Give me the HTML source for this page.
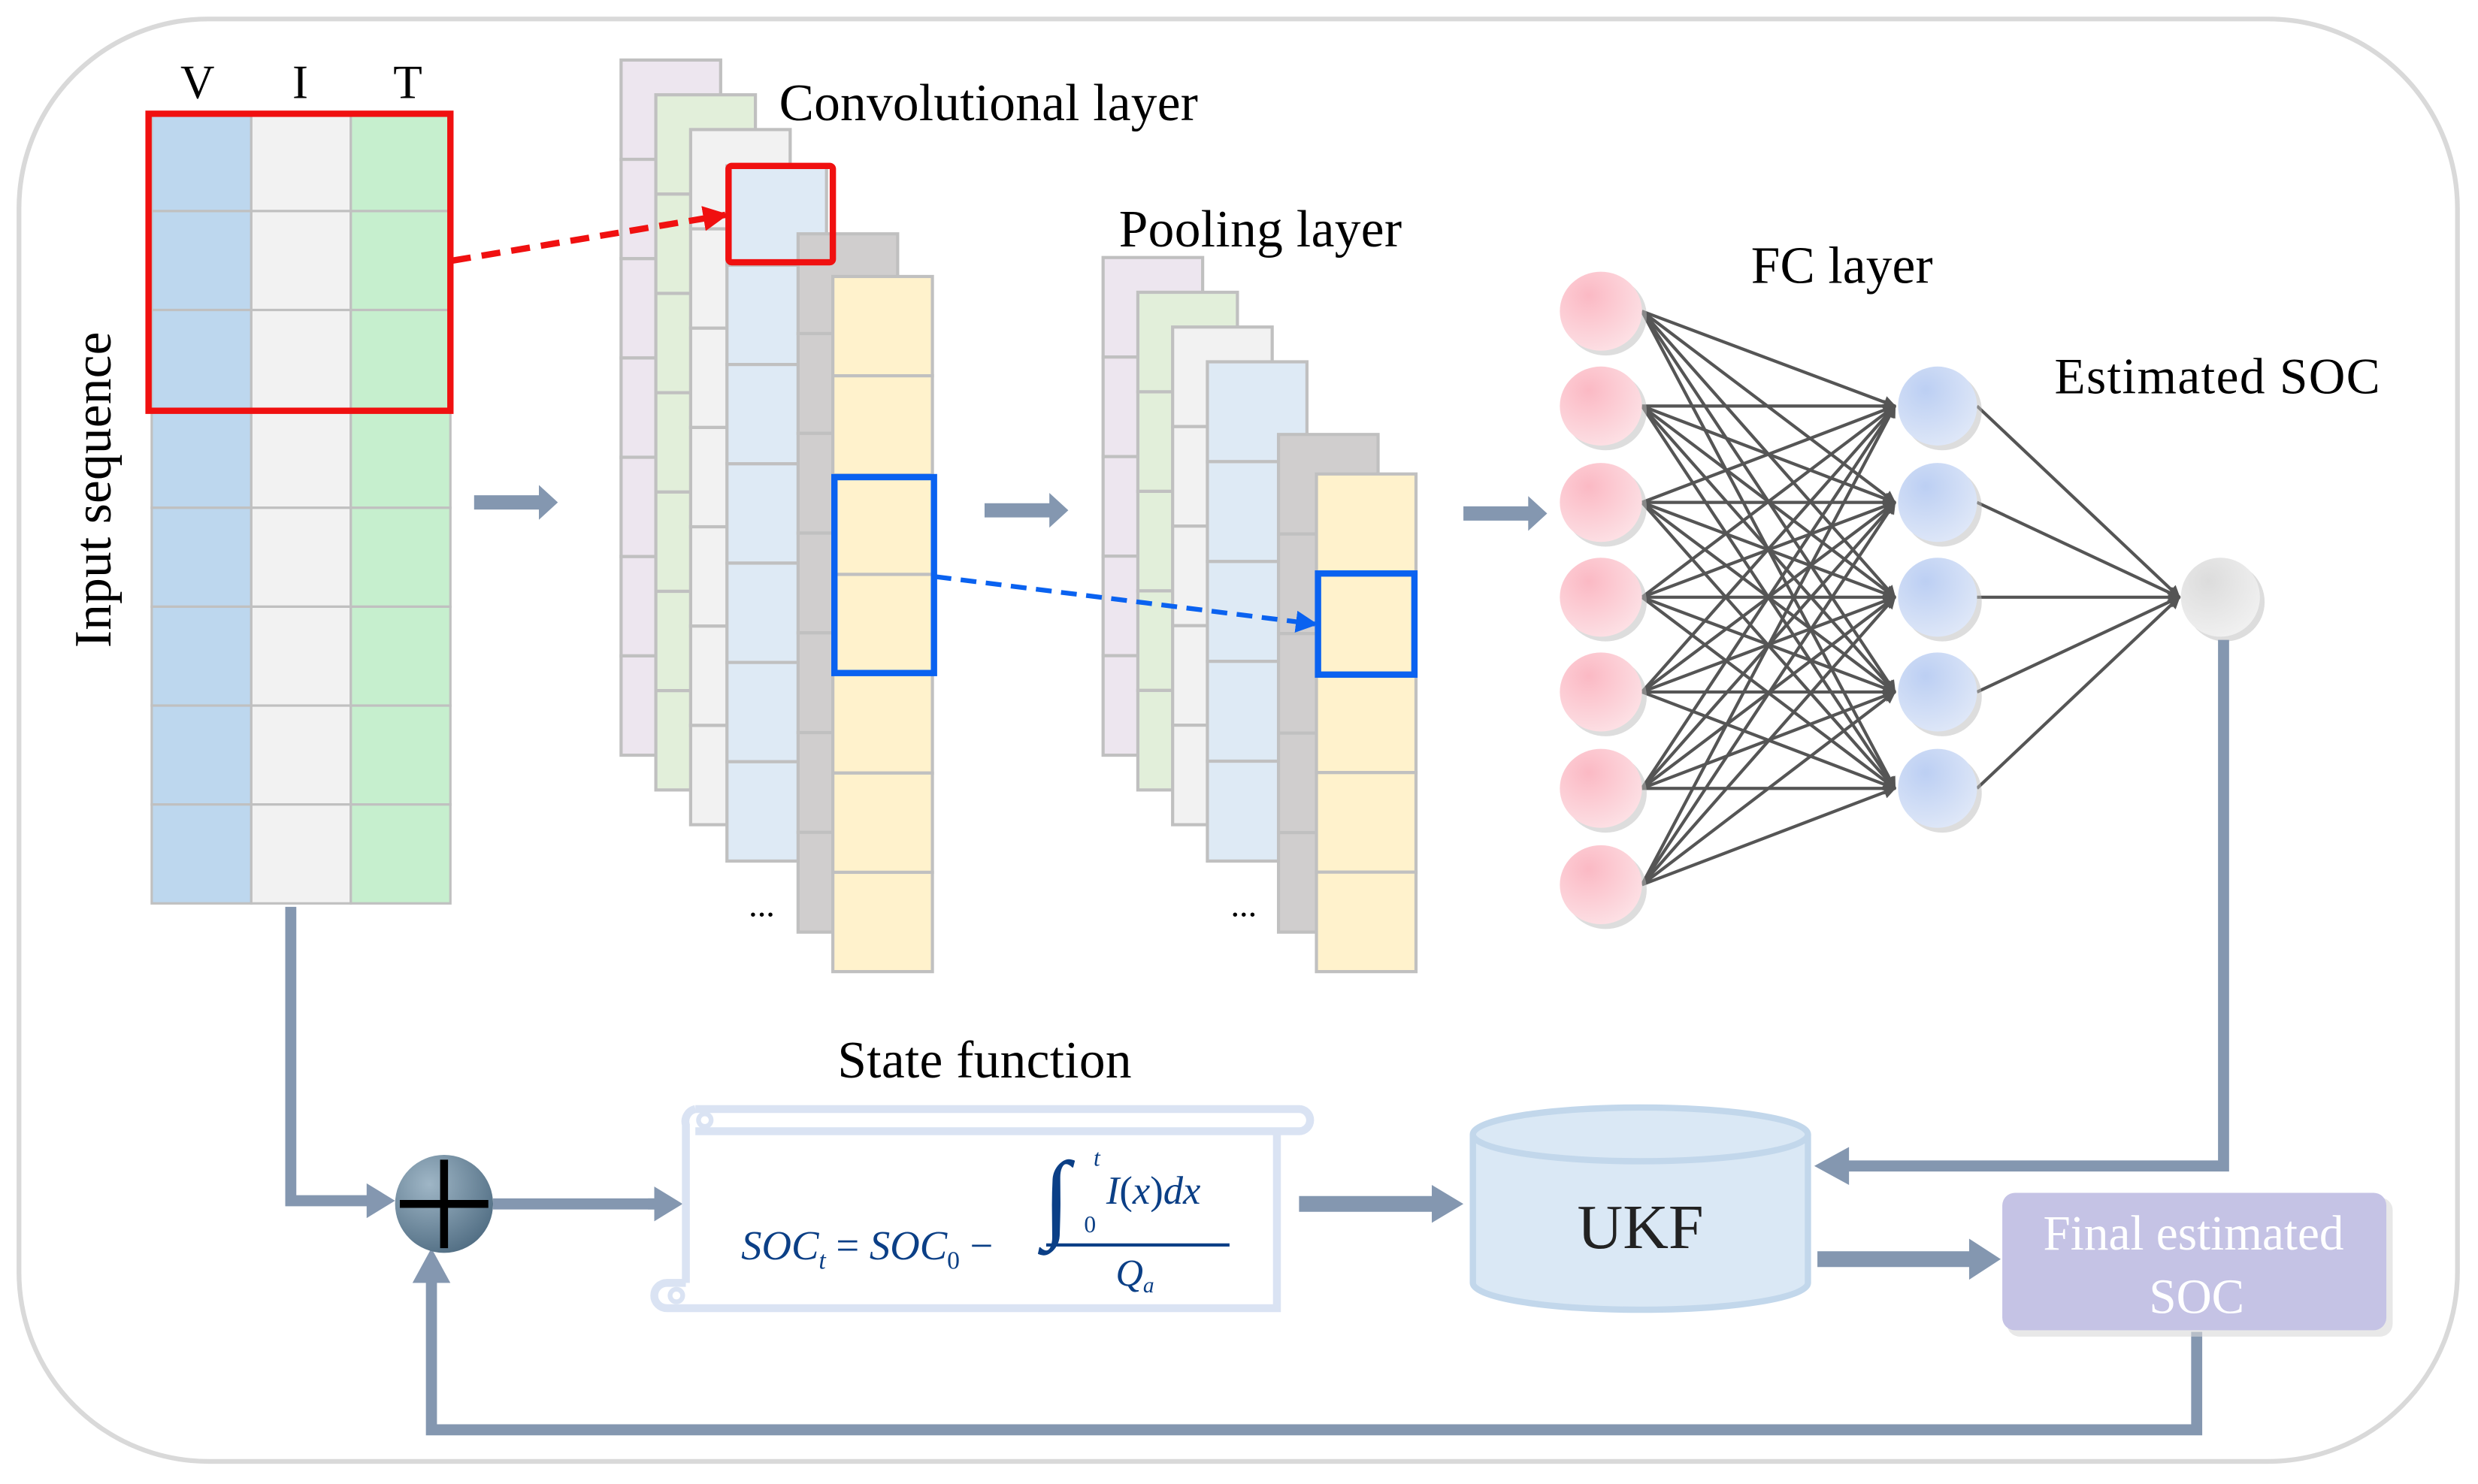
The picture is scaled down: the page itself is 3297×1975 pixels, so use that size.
<!DOCTYPE html>
<html><head><meta charset="utf-8"><style>
html,body{margin:0;padding:0;background:#fff;}
svg{display:block;}
text{font-family:"Liberation Serif",serif;}
</style></head><body>
<svg id="s" width="3297" height="1975" viewBox="0 0 1568 939.3" preserveAspectRatio="none" xmlns="http://www.w3.org/2000/svg">
<defs>
<marker id="ah" markerWidth="8" markerHeight="8" refX="7" refY="4" orient="auto" markerUnits="userSpaceOnUse"><path d="M0,0L8,4L0,8z" fill="#555"/></marker>
<marker id="ar" markerWidth="16" markerHeight="16" refX="14" refY="8" orient="auto" markerUnits="userSpaceOnUse"><path d="M0,0L16,8L0,16z" fill="#f01010"/></marker>
<marker id="ab" markerWidth="14" markerHeight="14" refX="12" refY="7" orient="auto" markerUnits="userSpaceOnUse"><path d="M0,0L14,7L0,14z" fill="#0a62f0"/></marker>
<radialGradient id="gp" cx="0.35" cy="0.3" r="0.8"><stop offset="0" stop-color="#fbb9c4"/><stop offset="1" stop-color="#fde3e7"/></radialGradient>
<radialGradient id="gb" cx="0.35" cy="0.3" r="0.8"><stop offset="0" stop-color="#bccff3"/><stop offset="1" stop-color="#e1e9f8"/></radialGradient>
<radialGradient id="gg" cx="0.35" cy="0.3" r="0.8"><stop offset="0" stop-color="#dcdcdc"/><stop offset="1" stop-color="#f2f2f2"/></radialGradient>
<radialGradient id="gs" cx="0.35" cy="0.3" r="0.8"><stop offset="0" stop-color="#9fb6c6"/><stop offset="1" stop-color="#4d6a80"/></radialGradient>
</defs>
<rect x="12" y="12" width="1543" height="913" rx="120" fill="#fff" stroke="#d9d9d9" stroke-width="3"/>
<g id="g"></g>
<!-- labels -->
<text x="125" y="62" font-size="30" text-anchor="middle">V</text>
<text x="190" y="62" font-size="30" text-anchor="middle">I</text>
<text x="258" y="62" font-size="30" text-anchor="middle">T</text>
<text x="493" y="76" font-size="33" textLength="265">Convolutional layer</text>
<text x="708" y="156" font-size="33" textLength="179">Pooling layer</text>
<text x="1108" y="179" font-size="33" textLength="115">FC layer</text>
<text x="1300" y="249" font-size="32" textLength="206">Estimated SOC</text>
<text transform="translate(70,310) rotate(-90)" font-size="33" text-anchor="middle" textLength="200">Input sequence</text>
<text x="530" y="682" font-size="33" textLength="186">State function</text>
<text x="482" y="580" font-size="22" text-anchor="middle">...</text>
<text x="787" y="580" font-size="22" text-anchor="middle">...</text>
<!-- scroll -->
<path d="M440,716 L822,716 M440,702 L822,702 A7,7 0 0 1 822,716" fill="none" stroke="#dae3f3" stroke-width="5"/>
<path d="M440,702 A8,8 0 0 0 434,712 L434,812 M808,716 L808,828 L422,828 A8,8 0 0 1 422,812 L434,812" fill="none" stroke="#dae3f3" stroke-width="5"/>
<circle cx="446" cy="709" r="4" fill="none" stroke="#dae3f3" stroke-width="3"/>
<circle cx="428" cy="820" r="4" fill="none" stroke="#dae3f3" stroke-width="3"/>
<g fill="#0b3f86" font-family="Liberation Serif,serif" font-style="italic">
<text x="469" y="797" font-size="26">SOC<tspan font-size="16" dy="6">t</tspan><tspan dy="-6" font-style="normal"> = </tspan>SOC<tspan font-size="16" dy="6" font-style="normal">0</tspan><tspan dy="-6" font-style="normal"> − </tspan></text>
<text x="660" y="778" font-size="62" font-style="normal">∫</text>
<text x="692" y="738" font-size="15">t</text>
<text x="686" y="780" font-size="15" font-style="normal">0</text>
<text x="700" y="762" font-size="25">I<tspan font-style="normal">(</tspan>x<tspan font-style="normal">)</tspan>dx</text>
<line x1="662" y1="788" x2="778" y2="788" stroke="#0b3f86" stroke-width="2"/>
<text x="706" y="814" font-size="24">Q<tspan font-size="14" dy="4">a</tspan></text>
</g>
<!-- UKF -->
<path d="M932,718 L932,812 A106,17 0 0 0 1144,812 L1144,718" fill="#dae8f5" stroke="#c2d7eb" stroke-width="4"/>
<ellipse cx="1038" cy="718" rx="106" ry="17" fill="#dae8f5" stroke="#c2d7eb" stroke-width="4"/>
<text x="1038" y="790" font-size="40" text-anchor="middle" fill="#222">UKF</text>
<!-- final -->
<rect x="1270" y="758" width="244" height="88" rx="8" fill="#d9d9d9" opacity="0.6"/>
<rect x="1267" y="755" width="243" height="87" rx="8" fill="#c5c3e5"/>
<text x="1388" y="791" font-size="31" text-anchor="middle" fill="#fff">Final estimated</text>
<text x="1390" y="831" font-size="31" text-anchor="middle" fill="#fff">SOC</text>
<!-- sum circle -->
<circle cx="281" cy="762" r="31" fill="url(#gs)"/>
<path d="M253,762H309M281,734V790" stroke="#000" stroke-width="5"/>
</svg>
<script>
var g=document.getElementById('g'),NS='http://www.w3.org/2000/svg';
function el(t,a){var e=document.createElementNS(NS,t);for(var k in a)e.setAttribute(k,a[k]);g.appendChild(e);return e;}
var GR='#c0c0c0';
var cols=['#bdd7ee','#f2f2f2','#c6efce'];
for(var c=0;c<3;c++){for(var r=0;r<8;r++){el('rect',{x:96+c*63,y:71+r*62.6,width:63,height:62.6,fill:cols[c],stroke:GR,'stroke-width':1.5});}}
el('rect',{x:94,y:72,width:191,height:188,fill:'none',stroke:'#f01010','stroke-width':4});
function stack(x0,layers){
 layers.forEach(function(L){
  var x=x0+L[0],y=L[1],b=L[2],n=Math.round((b-y)/63);var h=(b-y)/n;
  for(var i=0;i<n;i++)el('rect',{x:x,y:y+i*h,width:63,height:h,fill:L[3],stroke:GR,'stroke-width':2});
 });
}
stack(393,[[0,38,478,'#ede6ef'],[22,60,500,'#e2efda'],[44,82,522,'#f2f2f2'],[67,105,545,'#deeaf5'],[112,148,590,'#d0cece'],[134,175,615,'#fff2cc']]);
stack(698,[[0,163,478,'#ede6ef'],[22,185,500,'#e2efda'],[44,207,522,'#f2f2f2'],[66,229,545,'#deeaf5'],[111,275,590,'#d0cece'],[135,300,615,'#fff2cc']]);
el('rect',{x:461,y:105,width:66,height:61,fill:'none',stroke:'#f01010','stroke-width':4,rx:2});
el('rect',{x:528,y:302,width:63,height:124,fill:'none',stroke:'#0a62f0','stroke-width':4});
el('rect',{x:834,y:363,width:61,height:64,fill:'none',stroke:'#0a62f0','stroke-width':4});
el('line',{x1:286,y1:165,x2:459,y2:136,stroke:'#f01010','stroke-width':4,'stroke-dasharray':'12,7','marker-end':'url(#ar)'});
el('line',{x1:592,y1:365,x2:832,y2:395,stroke:'#0a62f0','stroke-width':3,'stroke-dasharray':'10,6','marker-end':'url(#ab)'});
var L1=[197,257,318,378,438,499,560],L2=[257,318,378,438,499];
L1.forEach(function(a){L2.forEach(function(b){el('line',{x1:1039,y1:a,x2:1199,y2:b,stroke:'#555','stroke-width':2,'marker-end':'url(#ah)'});});});
L2.forEach(function(b){el('line',{x1:1251,y1:b,x2:1379,y2:378,stroke:'#555','stroke-width':2,'marker-end':'url(#ah)'});});
L1.forEach(function(a){el('ellipse',{cx:1016,cy:a+3,rx:26,ry:25,fill:'#bbb',opacity:.5});el('ellipse',{cx:1013,cy:a,rx:26,ry:25,fill:'url(#gp)'});});
L2.forEach(function(a){el('ellipse',{cx:1229,cy:a+3,rx:25,ry:25,fill:'#bbb',opacity:.5});el('ellipse',{cx:1226,cy:a,rx:25,ry:25,fill:'url(#gb)'});});
el('ellipse',{cx:1408,cy:381,rx:25,ry:25,fill:'#bbb',opacity:.5});el('ellipse',{cx:1405,cy:378,rx:25,ry:25,fill:'url(#gg)'});
var A='#8497b0';
function arr(x1,y,x2,w,hw,hl){el('path',{d:'M'+x1+','+(y-w/2)+'H'+(x2-hl)+'V'+(y-hw/2)+'L'+x2+','+y+'L'+(x2-hl)+','+(y+hw/2)+'V'+(y+w/2)+'H'+x1+'Z',fill:A});}
arr(300,318,353,9,22,12);arr(623,323,676,9,22,12);arr(926,325,979,9,22,12);
function pl(d){el('path',{d:d,fill:'none',stroke:A,'stroke-width':7});}
pl('M184,574V760H236');arr(232,760,250,7,22,18);
pl('M312,762H415');arr(410,762,432,7,22,18);
arr(822,762,926,10,24,20);
pl('M1407,405V738H1168');el('path',{d:'M1148,738L1170,726V750Z',fill:A});
arr(1150,797,1266,10,26,20);
pl('M1390,843V905H273V810');el('path',{d:'M273,790L261,812H285Z',fill:A});
</script>
</body></html>
